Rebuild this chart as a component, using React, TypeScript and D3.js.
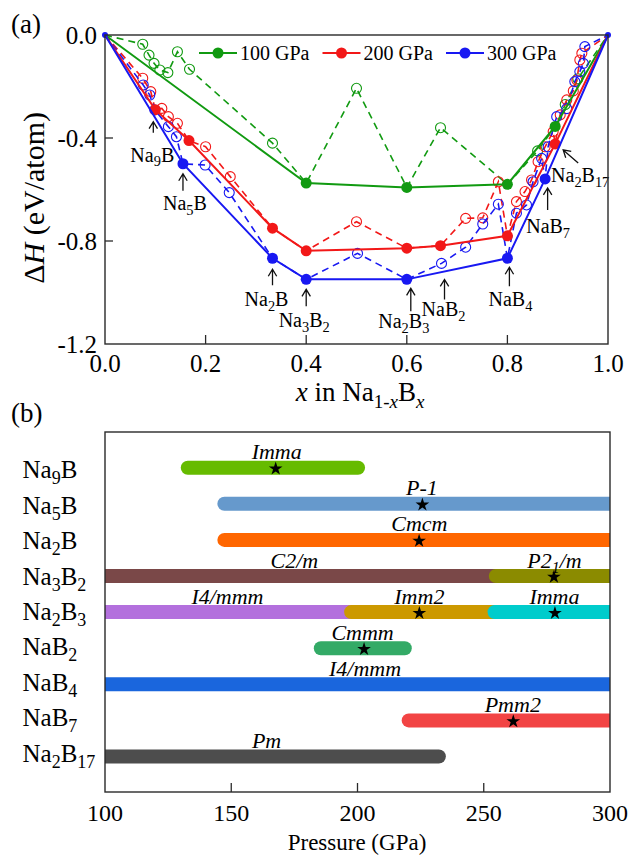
import * as d3 from "d3";

type Pt = [number, number];

// ---- panel (a): formation enthalpy vs composition ----
const pressures = ["100 GPa", "200 GPa", "300 GPa"];

// stable points on the convex hull, [x, dH]
const hull100: Pt[] = [[0, 0], [0.4, -0.575], [0.6, -0.592], [0.8, -0.58], [0.895, -0.355], [1, 0]];
const hull200: Pt[] = [
  [0, 0], [0.1, -0.29], [0.167, -0.41], [0.333, -0.75], [0.4, -0.838], [0.6, -0.828],
  [0.667, -0.818], [0.8, -0.78], [0.895, -0.423], [1, 0],
];
const hull300: Pt[] = [
  [0, 0], [0.155, -0.5], [0.333, -0.867], [0.4, -0.949], [0.6, -0.949], [0.8, -0.867],
  [0.875, -0.559], [1, 0],
];

// metastable structures (open circles)
const meta100: Pt[] = [
  [0.075, -0.036], [0.0875, -0.078], [0.0975, -0.11], [0.109, -0.136], [0.125, -0.146],
  [0.144, -0.065], [0.168, -0.133], [0.333, -0.42], [0.5, -0.207], [0.667, -0.36],
  [0.86, -0.45], [0.915, -0.27], [0.94, -0.17],
];
const meta200: Pt[] = [
  [0.075, -0.168], [0.091, -0.22], [0.113, -0.285], [0.126, -0.317], [0.144, -0.343],
  [0.2, -0.434], [0.249, -0.55], [0.5, -0.725], [0.717, -0.712], [0.751, -0.71],
  [0.782, -0.57], [0.818, -0.647], [0.835, -0.608], [0.848, -0.563], [0.861, -0.492],
  [0.875, -0.434], [0.891, -0.375], [0.905, -0.31], [0.918, -0.252], [0.931, -0.217],
  [0.938, -0.175], [0.944, -0.097], [0.948, -0.071],
];
const meta300: Pt[] = [
  [0.076, -0.194], [0.089, -0.233], [0.099, -0.291], [0.126, -0.356], [0.142, -0.395],
  [0.199, -0.505], [0.247, -0.612], [0.502, -0.848], [0.669, -0.887], [0.717, -0.824],
  [0.751, -0.734], [0.782, -0.657], [0.818, -0.692], [0.838, -0.66], [0.851, -0.57],
  [0.868, -0.479], [0.881, -0.434], [0.898, -0.317], [0.918, -0.286], [0.934, -0.181],
  [0.944, -0.142], [0.951, -0.11], [0.954, -0.045],
];

const xTicksA = [0, 0.2, 0.4, 0.6, 0.8, 1.0];
const yTicksA = [0, -0.4, -0.8, -1.2];

// ---- panel (b): pressure ranges of phases ----
const compounds = ["Na9B", "Na5B", "Na2B", "Na3B2", "Na2B3", "NaB2", "NaB4", "NaB7", "Na2B17"];
const phaseCompound = ["Na9B", "Na5B", "Na2B", "Na3B2", "Na3B2", "Na2B3", "Na2B3", "Na2B3", "NaB2", "NaB4", "NaB7", "Na2B17"];
const phaseName = ["Imma", "P-1", "Cmcm", "C2/m", "P2_1/m", "I4/mmm", "Imm2", "Imma", "Cmmm", "I4/mmm", "Pmm2", "Pm"];
const phaseFrom = [130, 144.5, 144.5, 100, 252, 100, 194.7, 251.5, 182.7, 100, 217.5, 100];
const phaseTo = [203, 300, 300, 252, 300, 194.7, 251.5, 300, 221.5, 300, 300, 235];
const phaseStar = [167.6, 225.7, 224.4, NaN, 277.8, NaN, 224.5, 278.2, 202.6, NaN, 261.7, NaN];
const phaseLabelAt = [168, 225.5, 224.5, 175, 278, 148.5, 224.5, 278, 202, 203, 261.5, 164];
const xTicksB = [100, 150, 200, 250, 300];

const seriesColors = ["#119a11", "#f21818", "#1818f2"];
const phaseColors = [
  "#66bb00", "#6699cc", "#ff6600", "#7a4848", "#8b8b00", "#b370dd",
  "#cc9900", "#00cccc", "#33aa66", "#1a66dd", "#f24444", "#4d4d4d",
];

const FONT = "'Liberation Serif', Tinos, 'Noto Serif', 'DejaVu Serif', FreeSerif, Times, serif";

// text with subscripts: odd entries are subscripts
const subs = (parts: string[], fs: number) => {
  const d = fs * 0.24;
  return parts.map((p, i) =>
    i % 2 ? (
      <tspan key={i} fontSize={fs * 0.72} dy={d}>{p}</tspan>
    ) : (
      <tspan key={i} dy={i ? -d : 0}>{p}</tspan>
    )
  );
};
const formula = (s: string, fs: number) => subs(s.split(/(\d+)/), fs);
const spaceGroup = (s: string, fs: number) => subs(s.split(/_(\d)/), fs);

// annotation layout, pixel offsets relative to the pointed data point
const annotations = [
  { name: "Na9B", pt: hull200[1], tip: [-2, 12], tail: [-2, 23], lab: [-3, 52] },
  { name: "Na5B", pt: hull300[1], tip: [0, 10], tail: [0, 27], lab: [2, 46] },
  { name: "Na2B", pt: hull300[2], tip: [0, 11], tail: [0, 27], lab: [-6, 48] },
  { name: "Na3B2", pt: hull300[3], tip: [0, 10], tail: [0, 27], lab: [-2, 48] },
  { name: "Na2B3", pt: hull300[4], tip: [4, 9], tail: [4, 32], lab: [-3, 49] },
  { name: "NaB2", pt: meta300[8], tip: [3, 16], tail: [3, 36], lab: [2, 53] },
  { name: "NaB4", pt: hull300[5], tip: [2, 9], tail: [2, 28], lab: [3, 48] },
  { name: "NaB7", pt: hull300[6], tip: [2.5, 9], tail: [2.5, 31], lab: [3, 54] },
  { name: "Na2B17", pt: hull200[8], tip: [8, 6], tail: [23, 19], lab: [25, 38] },
];

const arrowPath = (tx: number, ty: number, sx: number, sy: number) => {
  const len = Math.hypot(sx - tx, sy - ty);
  const ux = (sx - tx) / len, uy = (sy - ty) / len;
  const h = 7, w = 4.2;
  const bx = tx + ux * h, by = ty + uy * h;
  return `M${sx},${sy}L${tx},${ty}M${bx - uy * w},${by + ux * w}L${tx},${ty}L${bx + uy * w},${by - ux * w}`;
};

const App = () => {
  const xA = d3.scaleLinear().domain([0, 1]).range([105, 608]);
  const yA = d3.scaleLinear().domain([0, -1.2]).range([35, 344]);
  const line = d3.line<Pt>().x((d) => xA(d[0])).y((d) => yA(d[1]));
  const hulls = [hull100, hull200, hull300];
  const metas = [meta100, meta200, meta300];
  const legendX = d3.scalePoint<string>().domain(pressures).range([199, 446]);

  const xB = d3.scaleLinear().domain([100, 300]).range([105, 610]);
  const yB = d3.scalePoint<string>().domain(compounds).range([467.7, 756.5]);
  const yLab = d3.scalePoint<string>().domain(compounds).range([478.3, 761.7]);
  const star = d3.symbol().type(d3.symbolStar).size(58)() as string;
  const barW = 14;
  const [pMin, pMax] = xB.domain();

  const frame = "#2a2a2a";

  return (
    <svg width={631} height={857} style={{ position: "absolute", left: 0, top: 0, background: "#fff", fontFamily: FONT }}>
      {/* ---------- panel (a) ---------- */}
      <text x={11} y={33} fontSize={27}>(a)</text>
      {hulls.map((hull, i) => {
        const all = [...hull, ...metas[i]].sort((a, b) => a[0] - b[0]);
        return (
          <g key={"m" + i}>
            <path d={line(all) ?? ""} fill="none" stroke={seriesColors[i]} strokeWidth={1.6} strokeDasharray="7,5" />
            {metas[i].map((d, j) => (
              <circle key={j} cx={xA(d[0])} cy={yA(d[1])} r={5} fill="none" stroke={seriesColors[i]} strokeWidth={1.1} />
            ))}
          </g>
        );
      })}
      {hulls.map((hull, i) => (
        <g key={"h" + i}>
          <path d={line(hull) ?? ""} fill="none" stroke={seriesColors[i]} strokeWidth={2} />
          {hull.slice(1, -1).map((d, j) => (
            <circle key={j} cx={xA(d[0])} cy={yA(d[1])} r={5.5} fill={seriesColors[i]} />
          ))}
        </g>
      ))}
      {[0, 1].map((v) => (
        <circle key={v} cx={xA(v)} cy={yA(0)} r={3} fill={seriesColors[2]} />
      ))}
      {/* legend */}
      {pressures.map((p, i) => {
        const x0 = legendX(p) as number;
        return (
          <g key={p}>
            <line x1={x0} x2={x0 + 38} y1={53} y2={53} stroke={seriesColors[i]} strokeWidth={2} />
            <circle cx={x0 + 19} cy={53} r={5.5} fill={seriesColors[i]} />
            <text x={x0 + 41} y={60} fontSize={20}>{p}</text>
          </g>
        );
      })}
      {/* annotations */}
      {annotations.map((a) => {
        const px = xA(a.pt[0]), py = yA(a.pt[1]);
        return (
          <g key={a.name}>
            <path d={arrowPath(px + a.tip[0], py + a.tip[1], px + a.tail[0], py + a.tail[1])} fill="none" stroke="#111" strokeWidth={1.3} />
            <text x={px + a.lab[0]} y={py + a.lab[1]} fontSize={20} textAnchor="middle">{formula(a.name, 20)}</text>
          </g>
        );
      })}
      {/* axes (a) */}
      <rect x={xA(0)} y={yA(0)} width={xA(1) - xA(0)} height={yA(-1.2) - yA(0)} fill="none" stroke={frame} strokeWidth={1.4} />
      {xTicksA.map((t) => (
        <g key={t}>
          {t > 0 && t < 1 && <line x1={xA(t)} x2={xA(t)} y1={yA(-1.2)} y2={yA(-1.2) - 9} stroke={frame} strokeWidth={1.3} />}
          <text x={xA(t)} y={372} fontSize={25} textAnchor="middle">{t.toFixed(1)}</text>
        </g>
      ))}
      {yTicksA.map((t) => (
        <g key={t}>
          {t < 0 && t > -1.2 && <line x1={xA(0)} x2={xA(0) + 8} y1={yA(t)} y2={yA(t)} stroke={frame} strokeWidth={1.3} />}
          <text x={97} y={yA(t) + 8.5} fontSize={25} textAnchor="end">{t === 0 ? "0.0" : t.toFixed(1)}</text>
        </g>
      ))}
      <text transform="translate(44,112) rotate(-90)" fontSize={30} textAnchor="end">
        Δ<tspan fontStyle="italic">H</tspan> (eV/atom)
      </text>
      <text x={360} y={401} fontSize={27} textAnchor="middle">
        <tspan fontStyle="italic">x</tspan> in Na
        <tspan fontSize={19} dy={6.5}>1-</tspan>
        <tspan fontSize={19} fontStyle="italic">x</tspan>
        <tspan dy={-6.5}>B</tspan>
        <tspan fontSize={19} fontStyle="italic" dy={6.5}>x</tspan>
      </text>

      {/* ---------- panel (b) ---------- */}
      <text x={11} y={422} fontSize={27}>(b)</text>
      <defs>
        <clipPath id="clipB">
          <rect x={xB(100)} y={432} width={xB(300) - xB(100)} height={360} />
        </clipPath>
      </defs>
      <g clipPath="url(#clipB)">
        {phaseName.map((n, i) => {
          const c = phaseCompound[i];
          const y = yB(c) as number;
          const covered = phaseCompound.some((c2, j) => j !== i && c2 === c && Math.abs(phaseFrom[j] - phaseTo[i]) < 1.5);
          const x1 = phaseFrom[i] <= pMin ? xB(phaseFrom[i]) - 10 : xB(phaseFrom[i]) + barW / 2;
          const x2 = phaseTo[i] >= pMax ? xB(phaseTo[i]) + 10 : covered ? xB(phaseTo[i]) + 8 : xB(phaseTo[i]) - barW / 2;
          return (
            <line key={i} x1={x1} x2={x2} y1={y} y2={y} stroke={phaseColors[i]} strokeWidth={barW} strokeLinecap="round" />
          );
        })}
      </g>
      {phaseName.map((n, i) => {
        const y = yB(phaseCompound[i]) as number;
        return (
          <g key={"l" + i}>
            {!isNaN(phaseStar[i]) && <path d={star} transform={`translate(${xB(phaseStar[i])},${y + 1})`} fill="#000" />}
            <text x={xB(phaseLabelAt[i])} y={y - 8.5} fontSize={22} fontStyle="italic" textAnchor="middle">
              {spaceGroup(n, 22)}
            </text>
          </g>
        );
      })}
      {compounds.map((c) => (
        <text key={c} x={22.5} y={yLab(c)} fontSize={25}>{formula(c, 25)}</text>
      ))}
      <rect x={xB(100)} y={432} width={xB(300) - xB(100)} height={360} fill="none" stroke={frame} strokeWidth={1.4} />
      {xTicksB.map((t) => (
        <g key={t}>
          {t > pMin && t < pMax && <line x1={xB(t)} x2={xB(t)} y1={792} y2={783} stroke={frame} strokeWidth={1.3} />}
          <text x={xB(t)} y={821} fontSize={24} textAnchor="middle">{t}</text>
        </g>
      ))}
      <text x={357} y={850} fontSize={23} textAnchor="middle">Pressure (GPa)</text>
    </svg>
  );
};

export default App;
